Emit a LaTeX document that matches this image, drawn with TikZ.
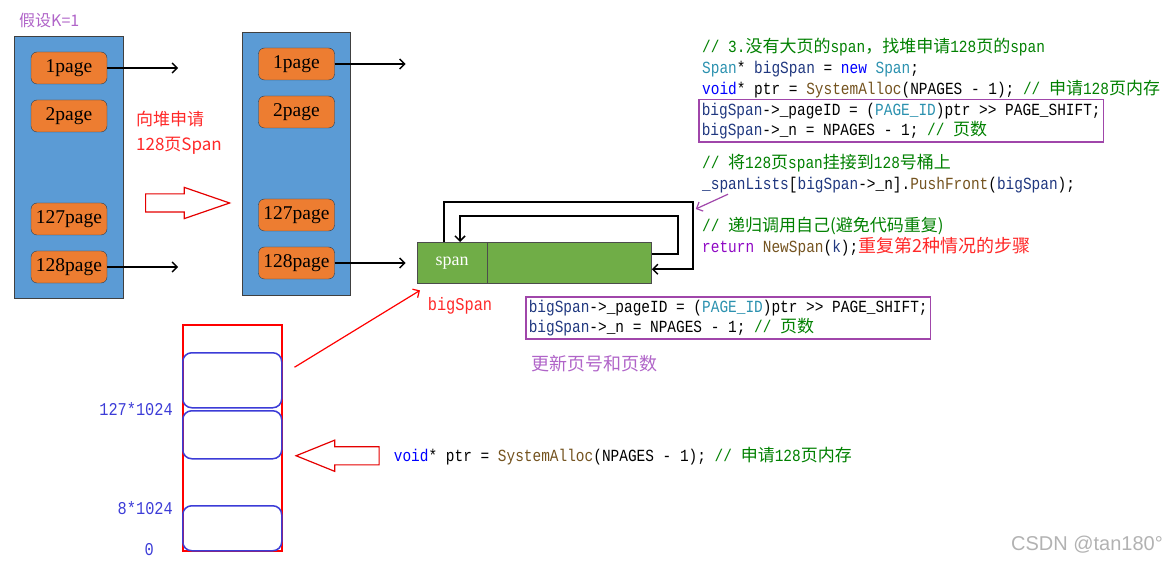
\documentclass[tikz,border=0pt]{standalone}
\usepackage{fontspec}
\setmainfont{Liberation Serif}
\newfontfamily\codefont[FakeStretch=0.85]{Liberation Mono}
\newfontfamily\cjk{Noto Sans CJK SC}
\newfontfamily\markfont{Liberation Sans}
\usetikzlibrary{positioning,arrows.meta,shapes.arrows}

\definecolor{stackblue}{RGB}{91,155,213}
\definecolor{pageorange}{RGB}{237,125,49}
\definecolor{spangreen}{RGB}{112,173,71}
\definecolor{notered}{RGB}{255,40,40}
\definecolor{notepurple}{RGB}{176,100,200}
\definecolor{boxpurple}{RGB}{160,70,170}
\definecolor{memblue}{RGB}{60,60,215}
\definecolor{codegreen}{RGB}{0,128,0}
\definecolor{codeteal}{RGB}{43,145,175}
\definecolor{codeblue}{RGB}{0,0,255}
\definecolor{codebrown}{RGB}{116,83,31}
\definecolor{codevar}{RGB}{31,55,127}
\definecolor{codereturn}{RGB}{143,8,196}

\newcommand\zh[1]{{\cjk #1}}
\newcommand\cmt[1]{\textcolor{codegreen}{#1}}
\newcommand\tp[1]{\textcolor{codeteal}{#1}}
\newcommand\kw[1]{\textcolor{codeblue}{#1}}
\newcommand\fn[1]{\textcolor{codebrown}{#1}}
\newcommand\vr[1]{\textcolor{codevar}{#1}}

\begin{document}
\begin{tikzpicture}[x=1pt, y=-1pt, >={Straight Barb[length=5pt,width=10pt]},
  every node/.style={inner sep=0pt},
  stack/.style={draw=black!75, fill=stackblue, line width=0.8pt,
    anchor=north west, minimum width=109pt, minimum height=262pt},
  page/.style={draw=stackblue!40!black, fill=pageorange, rounded corners=6pt,
    minimum width=76pt, minimum height=32pt, font=\fontsize{19.5}{20}\selectfont},
  link/.style={->, line width=1.5pt},
  code/.style={anchor=base west, font=\codefont\fontsize{17}{20.5}\selectfont},
  codebox/.style={code, anchor=north west, align=left, draw=boxpurple,
    line width=1.5pt, inner xsep=3pt, inner ysep=3pt},
  hollow/.style={single arrow, draw=red!90!black, fill=white, line width=1.2pt,
    inner xsep=0pt, inner ysep=8.5pt, single arrow head extend=6.5pt},
  memblock/.style={draw=memblue, line width=1.5pt, rounded corners=9pt,
    minimum width=99pt, anchor=north west},
  memlabel/.style={anchor=east, text=memblue, font=\codefont\fontsize{18}{20}\selectfont}]
  \useasboundingbox (0,0) rectangle (1173,564);

  % free lists before and after
  \node[text=notepurple, anchor=west, font=\cjk\fontsize{16}{18}\selectfont] (assume) at (19,20) {假设K=1};
  \node[stack] (stackL) at (14,36) {};
  \node[stack, minimum width=108pt, minimum height=263pt] (stackR) at (242,32) {};
  \foreach \n/\y in {1/68,2/116,127/219,128/267} {
    \node[page] (pL\n) at (69,\y) {\n page};
    \node[page] (pR\n) at (296.5,\y-4) {\n page};
  }
  \draw[link] (pL1.east) -- ++(71,0);
  \draw[link] (pL128.east) -- ++(71,0);
  \draw[link] (pR1.east) -- ++(71,0);
  \draw[link] (pR128.east) -- ++(71,0);

  \node[text=notered, align=left, font=\cjk\fontsize{17}{25}\selectfont] (heapreq) at (179,133)
  {向堆申请\\128页Span};
  \node[hollow, minimum height=84pt, single arrow tip angle=38, anchor=tail] (growarrow) at (145,203) {};

  % the new span
  \node[draw=black!70, fill=spangreen, minimum width=70pt, minimum height=41pt,
  anchor=north west, text=white, font=\fontsize{18}{20}\selectfont] (spanhead) at (417,242) {span};
  \node[draw=black!70, fill=spangreen, minimum width=164pt, minimum height=41pt,
  right=0pt of spanhead] (spanbody) {};
  \node[text=notered, font=\codefont\fontsize{18}{20}\selectfont] (bigspan) at (460,306) {bigSpan};

  \coordinate (loopright) at ([xshift=41pt]spanbody.east);
  \draw[link] ([xshift=27pt]spanhead.north west) -- ++(0,-40) coordinate (outertop)
  -- (outertop -| loopright) coordinate (loopcorner)
  |- ([yshift=-6.5pt]spanbody.east);
  \draw[link] ([yshift=8.5pt]spanbody.east) -- ++(26,0) |- ([xshift=43pt,yshift=26pt]spanhead.north west)
  -- ([xshift=43pt]spanhead.north west);

  % source code
  \node[code] (c1) at (702,52.5) {\cmt{// 3.\zh{没有大页的}span\zh{，找堆申请}128\zh{页的}span}};
  \node[code] (c2) at (702,73.5) {\tp{Span}* \vr{bigSpan} = \kw{new} \tp{Span};};
  \node[code] (c3) at (702,94.5) {\kw{void}* ptr = \fn{SystemAlloc}(NPAGES - 1); \cmt{// \zh{申请}128\zh{页内存}}};
  \node[codebox] (setbox) at (698,99) {\vr{bigSpan}->\_pageID = (\tp{PAGE\_ID})ptr >{}> PAGE\_SHIFT;\\
    \vr{bigSpan}->\_n = NPAGES - 1; \cmt{// \zh{页数}}};
  \node[code] (c4) at (702,168.5) {\cmt{// \zh{将}128\zh{页}span\zh{挂接到}128\zh{号桶上}}};
  \node[code] (c5) at (702,189.5) {\vr{\_spanLists}[\vr{bigSpan}->\_n].\fn{PushFront}(\vr{bigSpan});};
  \node[code] (c6) at (702,231.5) {\cmt{// \zh{递归调用自己(避免代码重复)}}};
  \node[code] (c7) at (702,252.5) {\textcolor{codereturn}{return} \fn{NewSpan}(\vr{k});{\cjk\color{notered}\fontsize{18}{20}\selectfont 重复第2种情况的步骤}};
  \draw[link, boxpurple, line width=1.2pt] ([xshift=26pt,yshift=-1pt]c5.south west)
  -- ([xshift=3pt,yshift=-7pt]loopcorner);

  \node[codebox] (updbox) at (525,296) {\vr{bigSpan}->\_pageID = (\tp{PAGE\_ID})ptr >{}> PAGE\_SHIFT;\\
    \vr{bigSpan}->\_n = NPAGES - 1; \cmt{// \zh{页数}}};
  \node[text=notepurple, font=\cjk\fontsize{18}{20}\selectfont] (updnote) at (594,364) {更新页号和页数};

  % memory from the system
  \node[draw=red, line width=1.5pt, minimum width=99pt, minimum height=226pt, anchor=north west] (mem) at (182,324) {};
  \node[memblock, minimum height=55pt] (blk1) at (182,352) {};
  \node[memblock, minimum height=48pt] (blk2) at (182,410) {};
  \node[memblock, minimum height=45pt] (blk3) at (182,505) {};
  \node[memlabel] (l127) at ([xshift=-9pt,yshift=-1pt]blk1.south west) {127*1024};
  \node[memlabel] (l8) at ([xshift=-9pt,yshift=-3pt]blk3.north west) {8*1024};
  \node[memlabel] (l0) at ([xshift=-28pt,yshift=2pt]blk3.south west) {0};
  \draw[link, red, line width=1.2pt] ([xshift=12pt,yshift=13pt]blk1.east) -- ([xshift=3pt,yshift=-7pt]spanhead.south west);

  \node[hollow, minimum height=83pt, single arrow tip angle=44, shape border rotate=180, anchor=tip]
  (allocarrow) at ([xshift=12pt,yshift=-21pt]blk2.east) {};
  \node[code, anchor=west] (alloc) at ([xshift=14pt]allocarrow.tail)
  {\kw{void}* ptr = \fn{SystemAlloc}(NPAGES - 1); \cmt{// \zh{申请}128\zh{页内存}}};

  \node[text=black!30, font=\markfont\fontsize{20}{22}\selectfont] (mark) at (1087,545) {CSDN @tan180°};
\end{tikzpicture}
\end{document}
